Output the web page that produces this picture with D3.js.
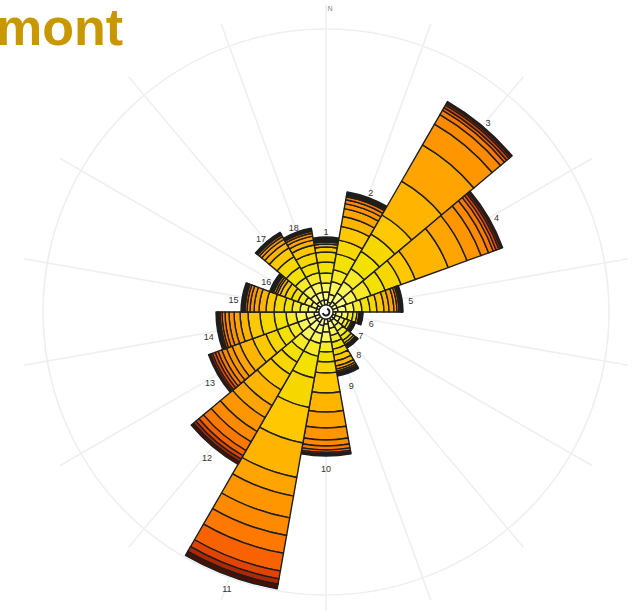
<!DOCTYPE html>
<html><head><meta charset="utf-8">
<script src="https://cdn.jsdelivr.net/npm/d3@7"></script>
<style>body{margin:0;background:#fff;overflow:hidden}</style>
</head><body>
<svg id="c" width="641" height="611"></svg>
<script>
// Direction sectors (labels 1..18, centred every 20 degrees from north)
const sectorLabels = ["1","2","3","4","5","6","7","8","9","10","11","12","13","14","15","16","17","18"];
const sectorAngles = [0,20,40,60,80,100,120,140,160,180,200,220,240,260,280,300,320,340];
// Speed-class colours (low -> high)
const classColors = ["#ffffa8","#ffff88","#fbf45a","#f7ea28","#f3e200","#f6d800","#ffc800","#ffb400","#ffa400","#ff9600","#ff8a00","#ff7800","#f86200","#e04400","#b02800","#4a1000"];
// Cumulative frequency (%) per speed class, one array per direction sector
const s01 = [0.5,1.3,2.2,3.2,4.3,5.3,5.8,6.1,6.3,6.4,6.5,6.55,6.6,6.65,6.7,6.8];
const s02 = [0.3,1.1,2.4,3.6,5.2,6.6,8.0,9.0,9.8,10.3,10.7,11.0,11.15,11.25,11.35,11.5];
const s03 = [0.5,1.5,2.8,4.3,6.3,8.3,10.5,14.4,18.6,21.0,22.1,22.6,22.9,23.2,23.4,23.6];
const s04 = [0.5,1.5,2.6,4.1,5.6,7.3,8.8,12.3,14.3,15.8,16.6,17.1,17.4,17.7,17.9,18.1];
const s05 = [0.5,1.3,2.1,2.9,3.7,4.4,5.1,5.6,6.1,6.4,6.6,6.75,6.85,6.9,6.95,7.0];
const s06 = [0.3,0.9,1.5,2.0,2.4,2.6,2.7,2.75,2.8,2.83,2.86,2.89,2.92,2.95,2.98,3.0];
const s07 = [0.3,0.8,1.3,1.7,2.0,2.15,2.2,2.23,2.26,2.29,2.32,2.34,2.36,2.38,2.4,2.42];
const s08 = [0.3,0.9,1.5,2.1,2.6,2.9,3.1,3.2,3.25,3.3,3.33,3.36,3.39,3.42,3.45,3.48];
const s09 = [0.3,1.0,1.7,2.4,3.1,3.7,4.3,4.8,5.1,5.3,5.45,5.55,5.6,5.65,5.7,5.8];
const s10 = [0.5,1.3,2.3,3.3,4.3,5.4,7.4,9.3,10.9,12.1,12.7,13.1,13.35,13.5,13.6,13.7];
const s11 = [0.7,1.5,2.5,3.8,6.0,9.0,12.6,16.1,18.0,20.2,22.0,23.8,25.6,26.4,26.95,27.4];
const s12 = [0.5,1.5,2.6,3.8,5.1,6.5,8.3,10.1,11.5,13.1,14.3,15.3,15.9,16.3,16.6,16.9];
const s13 = [0.5,1.3,2.3,3.3,4.5,5.7,7.1,8.5,9.3,9.9,10.4,10.8,11.1,11.4,11.6,11.8];
const s14 = [0.5,1.3,2.3,3.3,4.5,5.9,7.1,7.9,8.5,9.0,9.4,9.7,9.9,10.05,10.15,10.3];
const s15 = [0.3,1.1,1.9,2.7,3.5,4.5,5.3,6.0,6.5,6.9,7.2,7.4,7.5,7.6,7.7,7.8];
const s16 = [0.3,0.9,1.6,2.3,3.0,3.7,4.2,4.5,4.7,4.9,5.0,5.1,5.15,5.2,5.25,5.3];
const s17 = [0.5,1.3,2.3,3.3,4.5,5.7,6.7,7.3,7.7,8.0,8.2,8.3,8.35,8.4,8.45,8.5];
const s18 = [0.5,1.3,2.3,3.3,4.3,5.3,6.1,6.6,7.0,7.3,7.5,7.6,7.65,7.7,7.75,7.8];
const sectors = [s01,s02,s03,s04,s05,s06,s07,s08,s09,s10,s11,s12,s13,s14,s15,s16,s17,s18];
const titleText = "mont";

const W = 641, H = 611, cx = 326, cy = 312;
const svg = d3.select("#c");
svg.append("rect").attr("width", W).attr("height", H).attr("fill", "#fff");

const r = d3.scaleLinear().domain([0, 27.5]).range([7, 282]);
const rad = a => a * Math.PI / 180;
const g = svg.append("g").attr("transform", `translate(${cx},${cy})`);

// grid
const grid = g.append("g");
grid.append("circle").attr("r", 283).attr("fill", "none").attr("stroke", "#efefef").attr("stroke-width", 1.6);
sectorAngles.forEach(a => {
  grid.append("line")
    .attr("x1", 0).attr("y1", 0)
    .attr("x2", 307 * Math.sin(rad(a))).attr("y2", -307 * Math.cos(rad(a)))
    .attr("stroke", "#efefef").attr("stroke-width", 1.6);
});
g.append("text").attr("x", 4).attr("y", -301).attr("text-anchor", "middle")
  .attr("font-family", "Liberation Sans, Arial, sans-serif").attr("font-size", 7)
  .attr("fill", "#888").text("N");

// bars
const arc = d3.arc()
  .innerRadius(d => r(d.v0)).outerRadius(d => r(d.v1))
  .startAngle(d => rad(d.a - 10)).endAngle(d => rad(d.a + 10));

const segs = [];
sectors.forEach((vals, i) => {
  vals.forEach((v, k) => {
    segs.push({a: sectorAngles[i], v0: k === 0 ? 0 : vals[k - 1], v1: v, k});
  });
});
g.append("g").selectAll("path").data(segs).join("path")
  .attr("d", arc)
  .attr("fill", d => classColors[d.k])
  .attr("stroke", "#1e1e1e").attr("stroke-width", 1.4).attr("stroke-linejoin", "round");

// labels
g.append("g").selectAll("text").data(sectors).join("text")
  .attr("x", (d, i) => (r(d[d.length - 1]) + 9) * Math.sin(rad(sectorAngles[i])))
  .attr("y", (d, i) => -(r(d[d.length - 1]) + 9) * Math.cos(rad(sectorAngles[i])) + 7)
  .attr("text-anchor", "middle")
  .attr("font-family", "Liberation Sans, Arial, sans-serif").attr("font-size", 9)
  .attr("fill", "#333")
  .text((d, i) => sectorLabels[i]);

// centre calm circle
g.append("circle").attr("r", 7).attr("fill", "#fff").attr("stroke", "#1e1e1e").attr("stroke-width", 1.2);
g.append("path").attr("d", d3.arc().innerRadius(2.5).outerRadius(4.5).startAngle(rad(20)).endAngle(rad(250))())
  .attr("fill", "#1e1e1e");

// title (partially cut off at the left edge, as in the reference)
svg.append("text").attr("x", -4).attr("y", 45)
  .attr("font-family", "Liberation Sans, Arial, sans-serif").attr("font-weight", "bold")
  .attr("font-size", 52).attr("fill", "#c99700").text(titleText);
</script>
</body></html>
